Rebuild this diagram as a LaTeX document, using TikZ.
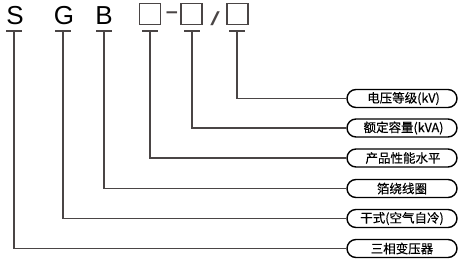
\documentclass[tikz,border=0pt]{standalone}
\usepackage{fontspec}
\setmainfont{Liberation Sans}
\newfontfamily\cjk{Noto Sans CJK SC}[FakeBold=0.35]
\usetikzlibrary{shapes.misc}
\definecolor{ln}{HTML}{4A4545}
\begin{document}
\begin{tikzpicture}[x=1pt,y=-1pt,
  conn/.style={draw=ln, line width=1.1pt},
  pill/.style={rounded rectangle, draw=black, line width=1.4pt, minimum width=110pt, minimum height=18pt, inner sep=0pt, font=\cjk\fontsize{12.5}{13}\selectfont},
  letter/.style={font=\fontsize{26}{26}\selectfont, inner sep=0pt, anchor=base},
  sq/.style={draw=ln, line width=1.2pt, minimum size=21pt, inner sep=0pt}]
\useasboundingbox (0,0) rectangle (471,266);
% top code
\node[letter] (S) at (15,24.5) {S};
\node[letter] (G) at (64,24.5) {G};
\node[letter] (B) at (104,24.5) {B};
\node[sq] (b1) at (150,14) {};
\node[letter, text=ln, font=\fontsize{19}{19}\selectfont] (dash) at (172,20.5) {\scalebox{1}[1.6]{–}};
\node[sq] (b2) at (191.5,14) {};
\node[letter, text=ln, font=\fontsize{19}{19}\selectfont] (slash) at (215,25) {\scalebox{1.8}[1]{/}};
\node[sq] (b3) at (237.5,14) {};
% pills
\node[pill] (p1) at (402,98.5) {\hspace*{3pt}电压等级(kV)};
\node[pill] (p2) at (402,128) {\hspace*{3pt}额定容量(kVA)};
\node[pill] (p3) at (402,158) {\hspace*{2pt}产品性能水平};
\node[pill] (p4) at (402,188.5) {箔绕线圈};
\node[pill] (p5) at (402,218.5) {干式(空气自冷)};
\node[pill] (p6) at (402,248.5) {三相变压器};
% T bars
\foreach \n/\x in {tS/14, tG/63, tB/104, t1/150, t2/192, t3/237}{
  \coordinate (\n) at (\x,31);
  \coordinate (\n l) at (\x-8,31);
  \coordinate (\n r) at (\x+8,31);
  \draw[conn] (\n l) -- (\n r);
}
% connectors
\draw[conn] (t3) |- (p1.west);
\draw[conn] (t2) |- (p2.west);
\draw[conn] (t1) |- (p3.west);
\draw[conn] (tB) |- (p4.west);
\draw[conn] (tG) |- (p5.west);
\draw[conn] (tS) |- (p6.west);
\end{tikzpicture}
\end{document}
